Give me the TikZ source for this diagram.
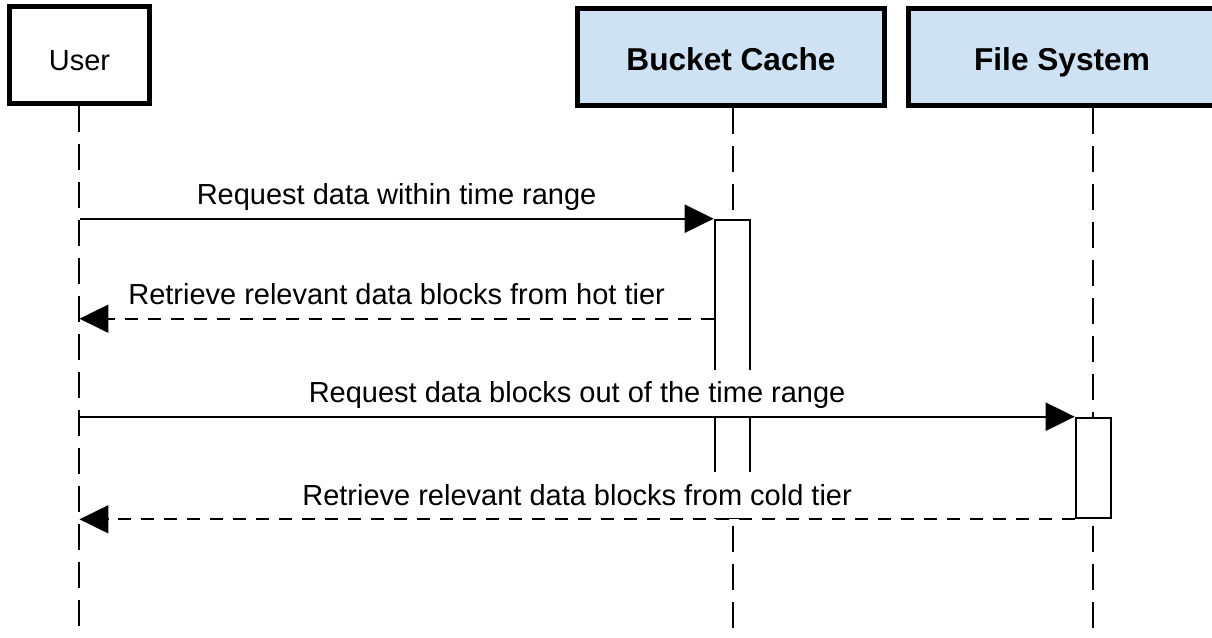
\documentclass[tikz,border=0pt]{standalone}
\usepackage{fontspec}
\setmainfont{Liberation Sans}
\usetikzlibrary{arrows.meta}

\definecolor{headblue}{RGB}{207,226,243}

\tikzset{
    head/.style={draw, line width=2.85pt, minimum height=1.96cm,
                 text height=17.5pt, text depth=0pt,
                 font=\fontsize{16.5}{20}\selectfont},
    comp/.style={head, fill=headblue, minimum width=6.16cm, text height=15.2pt,
                 font=\bfseries\fontsize{18}{22}\selectfont},
    lifeline/.style={line width=1.2pt, dash pattern=on 14.8pt off 6.8pt},
    act/.style={draw, fill=white, line width=1.5pt, minimum width=0.7cm,
                inner sep=0pt},
    call/.style={draw, line width=1.2pt, -{Triangle[length=0.58cm, width=0.56cm]}},
    reply/.style={call, dash pattern=on 7.4pt off 5.7pt},
    msglabel/.style={fill=white, anchor=south, minimum height=0.92cm,
                     text height=13pt, text depth=1.8pt, inner xsep=3pt}
}

\begin{document}
\begin{tikzpicture}[x=0.02cm, y=-0.02cm, font=\fontsize{16.5}{20}\selectfont]
    \useasboundingbox (0,0) rectangle (1212,638);

    % heads
    \node[head, minimum width=2.8cm] (user) at (79.5,55) {User};
    \node[comp] (cache) at (731,57) {Bucket Cache};
    \node[comp] (fs) at (1062,57) {File System};

    \foreach \n/\x in {user/79, cache/733, fs/1093}
        \path[draw, lifeline] (\x,0 |- \n.south) -- (\x,640);

    % activation bars
    \node[act, minimum height=5.96cm] (hot) at (732.5,369) {};
    \node[act, minimum height=2cm] (cold) at (1093.5,468) {};
    \path (hot.north west) ++(0,100) coordinate (hotret);

    % messages
    \path[call] (user |- hot.north) -- node[msglabel]
        {Request data within time range} (hot.north west);
    \path[reply] (hotret) -- node[msglabel]
        {Retrieve relevant data blocks from hot tier} (user |- hotret);
    \path[call] (user |- cold.north) -- node[msglabel]
        {Request data blocks out of the time range} (cold.north west);
    \path[reply] (cold.south west) -- node[msglabel]
        {Retrieve relevant data blocks from cold tier} (user |- cold.south);

\end{tikzpicture}
\end{document}
